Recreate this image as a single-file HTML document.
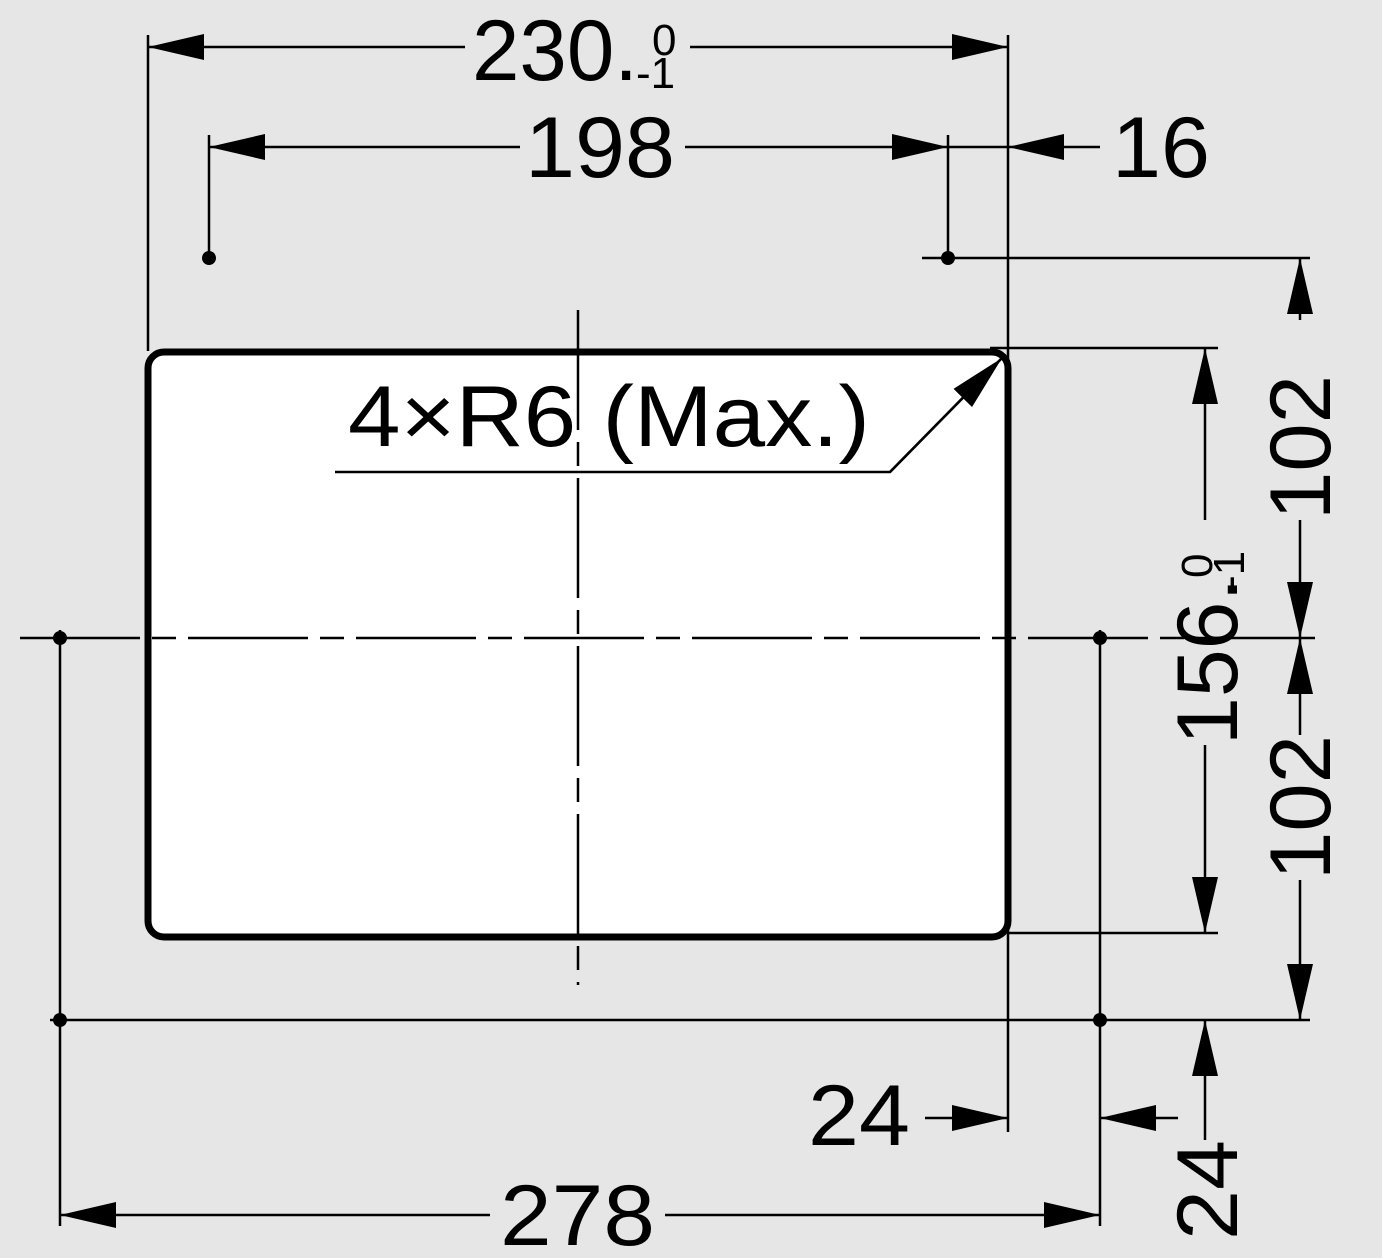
<!DOCTYPE html>
<html><head><meta charset="utf-8"><style>
html,body{margin:0;padding:0;background:#e6e6e6;}
svg{display:block;}
text{font-family:"Liberation Sans",Arial,sans-serif;fill:#000;}
</style></head><body>
<svg width="1382" height="1258" viewBox="0 0 1382 1258" xmlns="http://www.w3.org/2000/svg">
<defs>
<marker id="a" viewBox="0 0 56 26" refX="56" refY="13" markerWidth="56" markerHeight="26" markerUnits="userSpaceOnUse" orient="auto-start-reverse">
<path d="M0,0 L56,13 L0,26 Z" fill="#000"/></marker>
</defs>
<rect width="1382" height="1258" fill="#e6e6e6"/>
<g stroke="#000" stroke-width="2.5" fill="none">
<line x1="148" y1="35" x2="148" y2="351"/>
<line x1="1008" y1="35" x2="1008" y2="1132"/>
<line x1="209" y1="135" x2="209" y2="258"/>
<line x1="948" y1="135" x2="948" y2="258"/>
<line x1="922" y1="258" x2="1310" y2="258"/>
<line x1="990" y1="348" x2="1218" y2="348"/>
<line x1="1008" y1="933" x2="1218" y2="933"/>
<line x1="50" y1="1020" x2="1310" y2="1020"/>
<line x1="60" y1="630" x2="60" y2="1226"/>
<line x1="1100" y1="630" x2="1100" y2="1226"/>
<line x1="148" y1="47" x2="465" y2="47" marker-start="url(#a)"/>
<line x1="690" y1="47" x2="1008" y2="47" marker-end="url(#a)"/>
<line x1="209" y1="147" x2="520" y2="147" marker-start="url(#a)"/>
<line x1="685" y1="147" x2="948" y2="147" marker-end="url(#a)"/>
<line x1="948" y1="147" x2="1008" y2="147"/>
<line x1="1100" y1="147" x2="1008" y2="147" marker-end="url(#a)"/>
<line x1="60" y1="1215" x2="490" y2="1215" marker-start="url(#a)"/>
<line x1="665" y1="1215" x2="1100" y2="1215" marker-end="url(#a)"/>
<line x1="925" y1="1118" x2="1008" y2="1118" marker-end="url(#a)"/>
<line x1="1178" y1="1118" x2="1100" y2="1118" marker-end="url(#a)"/>
<line x1="1205" y1="520" x2="1205" y2="348" marker-end="url(#a)"/>
<line x1="1205" y1="745" x2="1205" y2="933" marker-end="url(#a)"/>
<line x1="1205" y1="1140" x2="1205" y2="1020" marker-end="url(#a)"/>
<line x1="1300" y1="320" x2="1300" y2="258" marker-end="url(#a)"/>
<line x1="1300" y1="520" x2="1300" y2="638" marker-end="url(#a)"/>
<line x1="1300" y1="735" x2="1300" y2="638" marker-end="url(#a)"/>
<line x1="1300" y1="880" x2="1300" y2="1020" marker-end="url(#a)"/>
</g>
<rect x="148" y="352" width="860" height="585" rx="16" ry="16" fill="#fff" stroke="#000" stroke-width="7"/>
<g stroke="#000" stroke-width="2.5">
<line x1="20" y1="638" x2="1315" y2="638" stroke-dasharray="120,12,24,12"/>
<line x1="578" y1="310" x2="578" y2="985" stroke-dasharray="120,12,24,12"/>
</g>
<polyline points="335,472 890,472 1000,360" fill="none" stroke="#000" stroke-width="2.5"/>
<line x1="890" y1="472" x2="1002" y2="358" stroke="#000" stroke-width="2.5" marker-end="url(#a)"/>
<g fill="#000">
<circle cx="209" cy="258" r="7"/><circle cx="948" cy="258" r="7"/>
<circle cx="60" cy="638" r="7"/><circle cx="60" cy="1020" r="7"/>
<circle cx="1100" cy="638" r="7"/><circle cx="1100" cy="1020" r="7"/>
</g>
<text x="472" y="80" font-size="86" textLength="166" lengthAdjust="spacingAndGlyphs">230.</text>
<text x="652" y="55" font-size="44">0</text>
<text x="636" y="88" font-size="44">-1</text>
<text x="525" y="177" font-size="86" textLength="150" lengthAdjust="spacingAndGlyphs">198</text>
<text x="1112" y="177" font-size="86" textLength="98" lengthAdjust="spacingAndGlyphs">16</text>
<text x="348" y="446" font-size="86" textLength="522" lengthAdjust="spacingAndGlyphs">4×R6 (Max.)</text>
<text x="500" y="1245" font-size="86" textLength="155" lengthAdjust="spacingAndGlyphs">278</text>
<text x="808" y="1145" font-size="86" textLength="102" lengthAdjust="spacingAndGlyphs">24</text>
<text transform="translate(1237,745) rotate(-90)" font-size="86">156.</text>
<text transform="translate(1212,578) rotate(-90)" font-size="44">0</text>
<text transform="translate(1244,590) rotate(-90)" font-size="44">-1</text>
<text transform="translate(1330,520) rotate(-90)" font-size="86" textLength="145" lengthAdjust="spacingAndGlyphs">102</text>
<text transform="translate(1330,880) rotate(-90)" font-size="86" textLength="145" lengthAdjust="spacingAndGlyphs">102</text>
<text transform="translate(1237,1240) rotate(-90)" font-size="86" textLength="100" lengthAdjust="spacingAndGlyphs">24</text>
</svg>
</body></html>
